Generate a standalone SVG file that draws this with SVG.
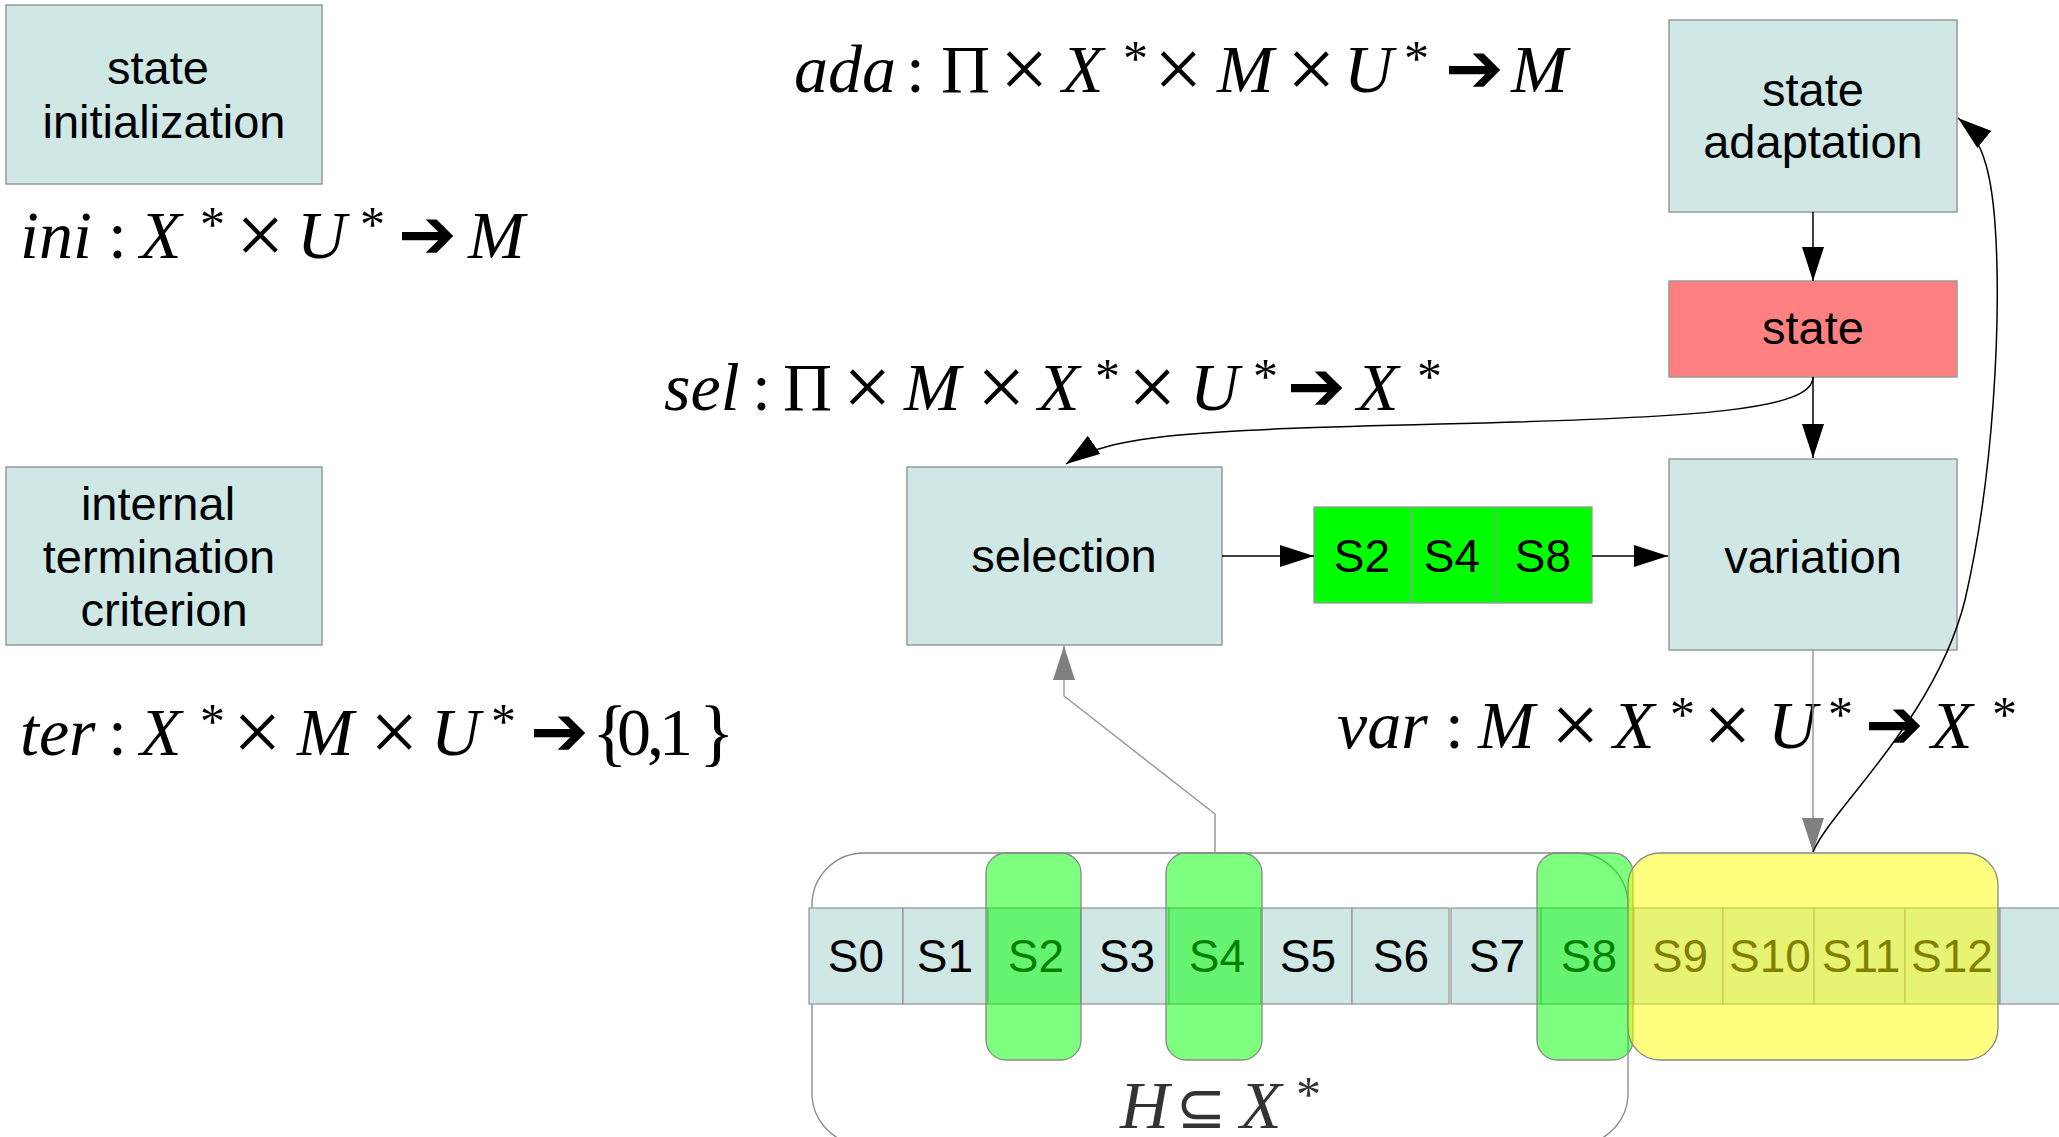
<svg xmlns="http://www.w3.org/2000/svg" width="2059" height="1137" viewBox="0 0 2059 1137">
<defs>
<style>
.box{fill:#cfe7e5;stroke:#999;stroke-width:1.5}
.lbl{font-family:"Liberation Sans",Arial,sans-serif;font-size:47px;text-anchor:middle;fill:#000}
.ct{font-family:"Liberation Sans",Arial,sans-serif;font-size:46px;text-anchor:middle;fill:#000}
.m{font-family:"Liberation Serif","Times New Roman",serif;font-style:italic;font-size:68px;fill:#000}
.u{font-style:normal}
.x{font-style:normal;font-size:86px}
.a{font-style:normal;font-size:50px}
.ar{font-family:"DejaVu Sans",sans-serif;font-style:normal;font-size:70px}
.br{font-style:normal;font-size:74px}
.blk{fill:none;stroke:#000;stroke-width:1.5}
.gry{fill:none;stroke:#999;stroke-width:1.5}
.ov{stroke:#888;stroke-width:1.3}
</style>
<marker id="ah" markerUnits="userSpaceOnUse" markerWidth="34" markerHeight="22" viewBox="0 0 34 22" refX="34" refY="11" orient="auto">
<path d="M0,0 L34,11 L0,22 z" fill="#000"/>
</marker>
<marker id="ahg" markerUnits="userSpaceOnUse" markerWidth="34" markerHeight="22" viewBox="0 0 34 22" refX="34" refY="11" orient="auto">
<path d="M0,0 L34,11 L0,22 z" fill="#808080"/>
</marker>
</defs>
<rect width="2059" height="1137" fill="#fff"/>

<g id="state-initialization">
<rect class="box" x="6" y="5" width="316" height="179"/>
<text class="lbl" x="158" y="84">state</text>
<text class="lbl" x="164" y="138">initialization</text>
</g>

<g id="internal-termination">
<rect class="box" x="6" y="467" width="316" height="178"/>
<text class="lbl" x="158" y="520">internal</text>
<text class="lbl" x="159" y="573">termination</text>
<text class="lbl" x="164" y="626">criterion</text>
</g>

<g id="state-adaptation">
<rect class="box" x="1669" y="20" width="288" height="192"/>
<text class="lbl" x="1813" y="106">state</text>
<text class="lbl" x="1813" y="158">adaptation</text>
</g>

<g id="state">
<rect x="1669" y="281" width="288" height="96" fill="#ff8080" stroke="#999" stroke-width="1.5"/>
<text class="lbl" x="1813" y="344">state</text>
</g>

<g id="selection">
<rect class="box" x="907" y="467" width="315" height="178"/>
<text class="lbl" x="1064" y="572">selection</text>
</g>

<g id="selected">
<rect x="1314" y="507" width="278" height="96" fill="#00ff00" stroke="#999" stroke-width="1.3"/>
<line x1="1411" y1="507" x2="1411" y2="603" stroke="#999" stroke-width="1.3"/>
<line x1="1496" y1="507" x2="1496" y2="603" stroke="#999" stroke-width="1.3"/>
<text class="ct" x="1362" y="572">S2</text>
<text class="ct" x="1452" y="572">S4</text>
<text class="ct" x="1543" y="572">S8</text>
</g>

<g id="variation">
<rect class="box" x="1669" y="459" width="288" height="191"/>
<text class="lbl" x="1813" y="573">variation</text>
</g>

<g id="formulas">
<text class="m" y="258"><tspan x="20">ini</tspan><tspan class="u" x="108">:</tspan><tspan x="140">X</tspan><tspan class="a" x="200" y="241">*</tspan><tspan class="x" x="236" y="264">×</tspan><tspan x="297" y="258">U</tspan><tspan class="a" x="360" y="241">*</tspan><tspan class="ar" x="398" y="258">➔</tspan><tspan x="468" y="258">M</tspan></text>

<text class="m" y="92"><tspan x="794">ada</tspan><tspan class="u" x="906">:</tspan><tspan class="u" x="941">Π</tspan><tspan class="x" x="1000" y="98">×</tspan><tspan x="1062" y="92">X</tspan><tspan class="a" x="1123" y="75">*</tspan><tspan class="x" x="1154" y="98">×</tspan><tspan x="1217" y="92">M</tspan><tspan class="x" x="1287" y="98">×</tspan><tspan x="1344" y="92">U</tspan><tspan class="a" x="1404" y="75">*</tspan><tspan class="ar" x="1445" y="92">➔</tspan><tspan x="1511" y="92">M</tspan></text>

<text class="m" y="410"><tspan x="664">sel</tspan><tspan class="u" x="752">:</tspan><tspan class="u" x="783">Π</tspan><tspan class="x" x="843" y="416">×</tspan><tspan x="904" y="410">M</tspan><tspan class="x" x="977" y="416">×</tspan><tspan x="1038" y="410">X</tspan><tspan class="a" x="1095" y="393">*</tspan><tspan class="x" x="1128" y="416">×</tspan><tspan x="1190" y="410">U</tspan><tspan class="a" x="1253" y="393">*</tspan><tspan class="ar" x="1287" y="410">➔</tspan><tspan x="1357" y="410">X</tspan><tspan class="a" x="1417" y="393">*</tspan></text>

<text class="m" y="748"><tspan x="1337">var</tspan><tspan class="u" x="1445">:</tspan><tspan x="1478">M</tspan><tspan class="x" x="1551" y="754">×</tspan><tspan x="1613" y="748">X</tspan><tspan class="a" x="1670" y="731">*</tspan><tspan class="x" x="1703" y="754">×</tspan><tspan x="1768" y="748">U</tspan><tspan class="a" x="1828" y="731">*</tspan><tspan class="ar" x="1865" y="748">➔</tspan><tspan x="1931" y="748">X</tspan><tspan class="a" x="1992" y="731">*</tspan></text>

<text class="m" y="755"><tspan x="20">ter</tspan><tspan class="u" x="108">:</tspan><tspan x="140">X</tspan><tspan class="a" x="200" y="738">*</tspan><tspan class="x" x="233" y="761">×</tspan><tspan x="297" y="755">M</tspan><tspan class="x" x="370" y="761">×</tspan><tspan x="431" y="755">U</tspan><tspan class="a" x="491" y="738">*</tspan><tspan class="ar" x="530" y="755">➔</tspan><tspan class="br" x="592" y="757">{</tspan><tspan class="u" x="617" y="755">0</tspan><tspan class="u" x="647">,</tspan><tspan class="u" x="659">1</tspan><tspan class="br" x="699" y="757">}</tspan></text>
</g>

<g id="history">
<rect x="812" y="853" width="816" height="292" rx="52" ry="52" fill="none" stroke="#888" stroke-width="1.3"/>
<g fill="#cfe7e5" stroke="#999" stroke-width="1.3">
<rect x="809" y="908" width="94" height="96"/>
<rect x="903" y="908" width="85" height="96"/>
<rect x="988" y="908" width="93" height="96"/>
<rect x="1081" y="908" width="88" height="96"/>
<rect x="1169" y="908" width="92" height="96"/>
<rect x="1261" y="908" width="91" height="96"/>
<rect x="1352" y="908" width="97" height="96"/>
<rect x="1451" y="908" width="90" height="96"/>
<rect x="1541" y="908" width="93" height="96"/>
<rect x="1634" y="908" width="89" height="96"/>
<rect x="1723" y="908" width="91" height="96"/>
<rect x="1814" y="908" width="91" height="96"/>
<rect x="1905" y="908" width="95" height="96"/>
<rect x="2000" y="908" width="80" height="96"/>
</g>
<text class="ct" x="856" y="972">S0</text>
<text class="ct" x="945" y="972">S1</text>
<text class="ct" x="1036" y="972">S2</text>
<text class="ct" x="1127" y="972">S3</text>
<text class="ct" x="1217" y="972">S4</text>
<text class="ct" x="1308" y="972">S5</text>
<text class="ct" x="1401" y="972">S6</text>
<text class="ct" x="1497" y="972">S7</text>
<text class="ct" x="1589" y="972">S8</text>
<text class="ct" x="1680" y="972">S9</text>
<text class="ct" x="1770" y="972">S10</text>
<text class="ct" x="1861" y="972">S11</text>
<text class="ct" x="1952" y="972">S12</text>
<text class="m" y="1128" style="fill:#333"><tspan x="1120">H</tspan><tspan class="u" x="1176" style="font-family:'DejaVu Sans',sans-serif;font-size:60px">⊆</tspan><tspan x="1240" y="1128">X</tspan><tspan class="a" x="1296" y="1111">*</tspan></text>
</g>

<g id="selected-marks" fill="#00ff00" fill-opacity="0.5">
<rect class="ov" x="986" y="853" width="95" height="207" rx="20" ry="20"/>
<rect class="ov" x="1166" y="853" width="96" height="207" rx="20" ry="20"/>
<rect class="ov" x="1537" y="853" width="96" height="207" rx="20" ry="20"/>
</g>
<g id="new-solutions">
<rect class="ov" x="1628" y="853" width="370" height="207" rx="32" ry="32" fill="#ffff00" fill-opacity="0.5"/>
</g>

<g id="connectors">
<line class="blk" x1="1813" y1="212" x2="1813" y2="281" marker-end="url(#ah)"/>
<line class="blk" x1="1813" y1="377" x2="1813" y2="458" marker-end="url(#ah)"/>
<path class="blk" d="M1813,377 C1813,410 1700,418 1440,424 C1200,430 1110,434 1066,464" marker-end="url(#ah)"/>
<line class="blk" x1="1222" y1="556" x2="1314" y2="556" marker-end="url(#ah)"/>
<line class="blk" x1="1592" y1="556" x2="1668" y2="556" marker-end="url(#ah)"/>
<line class="gry" x1="1813" y1="650" x2="1813" y2="852" marker-end="url(#ahg)"/>
<polyline class="gry" points="1215,853 1215,814 1064,696 1064,646" marker-end="url(#ahg)"/>
<path class="blk" d="M1813,852 C1830,810 1935,720 1965,600 C1995,470 2000,320 1996,240 C1993,180 1985,140 1958,118" marker-end="url(#ah)"/>
</g>
</svg>
